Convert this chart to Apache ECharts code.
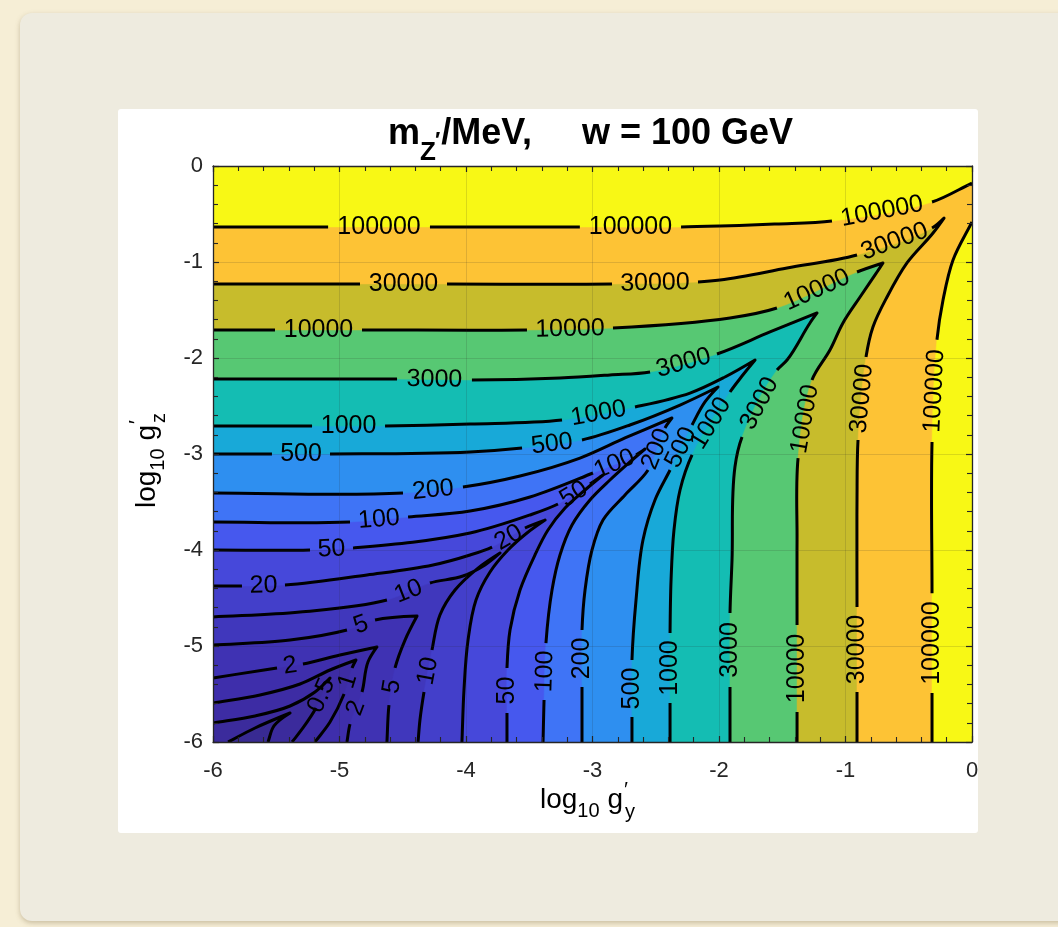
<!DOCTYPE html>
<html>
<head>
<meta charset="utf-8">
<script src="https://cdn.jsdelivr.net/npm/echarts@6.0.0/dist/echarts.min.js"></script>
<style>
html,body{margin:0;padding:0;}
body{width:1058px;height:927px;overflow:hidden;background:#f6eed6;position:relative;}
#card{position:absolute;left:20px;top:13px;width:1060px;height:908px;background:#eeebdf;border-radius:12px;box-shadow:0 2px 5px rgba(120,100,60,0.35);}
#panel{position:absolute;left:118px;top:109px;width:860px;height:724px;background:#ffffff;border-radius:3px;}
#chart{position:absolute;left:0;top:0;width:1058px;height:927px;}
</style>
</head>
<body>
<div id="card"></div>
<div id="panel"></div>
<div id="chart"></div>
<script>
// ---------------- data ----------------
// axes: x = log10 g'_y, y = log10 g'_z ; contour values = m_Z' in MeV
const xTickValues = [-6, -5, -4, -3, -2, -1, 0];
const yTickValues = [-6, -5, -4, -3, -2, -1, 0];
const levels = [0.2, 0.5, 1, 2, 5, 10, 20, 50, 100, 200, 500, 1000, 3000, 10000, 30000, 100000];

// each contour = list of visible line pieces; gaps between pieces hold the inline labels
const c100000top = [
  [[-6, -0.635], [-5.09, -0.635]],
  [[-4.285, -0.635], [-3.10, -0.635]],
  [[-2.30, -0.635], [-1.99, -0.625], [-1.55, -0.604], [-1.107, -0.573]],
  [[-0.316, -0.375], [0, -0.177]]
];
const c100000right = [
  [[0, -0.583], [-0.150, -0.979], [-0.229, -1.396], [-0.277, -1.81]],
  [[-0.316, -2.875], [-0.316, -4.45]],
  [[-0.316, -5.49], [-0.316, -6]]
];
const c30000 = [
  [[-6, -1.229], [-4.838, -1.229]],
  [[-4.150, -1.229], [-2.846, -1.229]],
  [[-2.166, -1.208], [-1.992, -1.188], [-1.462, -1.063], [-0.909, -0.927]],
  [[-0.316, -0.646], [-0.221, -0.542], [-0.308, -0.698], [-0.514, -1.010], [-0.672, -1.365], [-0.783, -1.677], [-0.838, -1.990]],
  [[-0.901, -2.854], [-0.909, -3.479], [-0.909, -4.594]],
  [[-0.909, -5.479], [-0.909, -6]]
];
const c10000 = [
  [[-6, -1.708], [-5.51, -1.708]],
  [[-4.822, -1.708], [-3.518, -1.708]],
  [[-2.838, -1.688], [-1.913, -1.583], [-1.542, -1.479]],
  [[-0.909, -1.104], [-0.704, -1.010], [-0.751, -1.104], [-0.885, -1.365], [-1.020, -1.635], [-1.123, -1.917], [-1.265, -2.229]],
  [[-1.375, -3.042], [-1.383, -3.896], [-1.383, -4.781]],
  [[-1.383, -5.688], [-1.383, -6]]
];
const c3000 = [
  [[-6, -2.219], [-4.545, -2.219]],
  [[-3.953, -2.229], [-3.257, -2.208], [-2.862, -2.177], [-2.545, -2.146]],
  [[-2.016, -1.958], [-1.597, -1.729], [-1.225, -1.531], [-1.281, -1.635], [-1.462, -2.021], [-1.541, -2.125]],
  [[-1.818, -2.823], [-1.874, -3.135], [-1.897, -4.104], [-1.913, -4.656]],
  [[-1.913, -5.427], [-1.913, -6]]
];
const c1000 = [
  [[-6, -2.708], [-5.217, -2.708]],
  [[-4.640, -2.708], [-3.968, -2.688], [-3.241, -2.646]],
  [[-2.664, -2.510], [-2.229, -2.365], [-1.953, -2.198], [-1.715, -2.021], [-1.818, -2.188], [-1.913, -2.354]],
  [[-2.213, -3.010], [-2.308, -3.375], [-2.356, -3.792], [-2.379, -4.313], [-2.387, -4.865]],
  [[-2.387, -5.594], [-2.387, -6]]
];
const c500 = [
  [[-6, -3.0], [-5.534, -3.0]],
  [[-5.075, -3.0], [-3.968, -2.979], [-3.557, -2.938]],
  [[-3.083, -2.854], [-2.704, -2.698], [-2.308, -2.490], [-2.008, -2.302], [-2.111, -2.458], [-2.213, -2.698]],
  [[-2.387, -3.167], [-2.506, -3.479], [-2.601, -3.896], [-2.656, -4.521], [-2.688, -5.146]],
  [[-2.688, -5.740], [-2.688, -6]]
];
const c200 = [
  [[-6, -3.406], [-4.498, -3.406]],
  [[-4.024, -3.344], [-3.573, -3.229], [-3.099, -3.042], [-2.743, -2.833], [-2.372, -2.625], [-2.427, -2.729]],
  [[-2.561, -3.167], [-2.743, -3.427], [-2.917, -3.688], [-3.004, -4.0], [-3.059, -4.417], [-3.083, -4.833]],
  [[-3.083, -5.427], [-3.083, -6]]
];
const c100 = [
  [[-6, -3.708], [-4.917, -3.708]],
  [[-4.458, -3.656], [-3.968, -3.594], [-3.494, -3.448], [-2.996, -3.198]],
  [[-2.656, -3.010], [-2.585, -2.948], [-2.704, -3.083], [-2.862, -3.271], [-3.020, -3.479], [-3.162, -3.740], [-3.257, -4.052], [-3.320, -4.417], [-3.368, -4.969]],
  [[-3.383, -5.563], [-3.391, -6]]
];
const c50 = [
  [[-6, -4.0], [-5.233, -4.0]],
  [[-4.893, -3.979], [-3.968, -3.823], [-3.494, -3.635], [-3.273, -3.521]],
  [[-3.020, -3.313], [-2.917, -3.219], [-3.059, -3.375], [-3.217, -3.563], [-3.352, -3.792], [-3.455, -4.052], [-3.573, -4.417], [-3.652, -4.833], [-3.676, -5.229]],
  [[-3.676, -5.698], [-3.676, -6]]
];
const c20 = [
  [[-6, -4.375], [-5.771, -4.375]],
  [[-5.431, -4.365], [-4.783, -4.260], [-4.261, -4.156], [-3.968, -4.052], [-3.794, -3.969]],
  [[-3.534, -3.771], [-3.375, -3.688], [-3.518, -3.823], [-3.668, -4.0], [-3.810, -4.229], [-3.921, -4.521], [-3.984, -4.938], [-4.016, -5.458], [-4.032, -6]]
];
const c10 = [
  [[-6, -4.698], [-5.312, -4.646], [-4.625, -4.521]],
  [[-4.285, -4.344], [-4.024, -4.271], [-3.850, -4.156], [-3.731, -4.031], [-3.905, -4.188], [-4.087, -4.417], [-4.206, -4.677], [-4.269, -5.042]],
  [[-4.332, -5.479], [-4.364, -5.771], [-4.379, -6]]
];
const c5 = [
  [[-6, -4.990], [-5.391, -4.938], [-4.941, -4.833]],
  [[-4.719, -4.729], [-4.387, -4.688], [-4.482, -4.938], [-4.561, -5.229]],
  [[-4.609, -5.615], [-4.625, -6]]
];
const c2 = [
  [[-6, -5.333], [-5.494, -5.229]],
  [[-5.289, -5.188], [-4.996, -5.094], [-4.704, -5.010], [-4.775, -5.167], [-4.822, -5.479]],
  [[-4.917, -5.813], [-4.941, -6]]
];
const c1 = [
  [[-6, -5.594], [-5.628, -5.510], [-5.312, -5.396], [-5.075, -5.25], [-4.870, -5.146], [-4.901, -5.229]],
  [[-4.964, -5.5], [-5.075, -5.792], [-5.194, -6]]
];
const c05 = [
  [[-6, -5.802], [-5.668, -5.729], [-5.391, -5.625], [-5.194, -5.479], [-5.075, -5.333], [-5.099, -5.385]],
  [[-5.186, -5.646], [-5.289, -5.854], [-5.375, -6]]
];
const c02 = [
  [[-5.881, -6], [-5.668, -5.854], [-5.391, -5.698], [-5.518, -5.833], [-5.565, -6]]
];

const contourLevels = [0.2, 0.5, 1, 2, 5, 10, 20, 50, 100, 200, 500, 1000, 3000, 10000, 30000, 100000, 100000];
const contourCurves = [c02, c05, c1, c2, c5, c10, c20, c50, c100, c200, c500, c1000, c3000, c10000, c30000, c100000top, c100000right];

// ---------------- style ----------------
const bandColors = ['#382a92', '#3b2b9c', '#3d2ca4', '#3e2eab', '#3f32b3', '#4037bc', '#433fca', '#4648da', '#4658ee', '#3f74f6', '#2e8ff0', '#18a9d8', '#14bdb3', '#57c873', '#c7bc2c', '#fdc335', '#f8f815'];
const FONT = '"Liberation Sans", Arial, Helvetica, sans-serif';

function fmt(v) { return String(v); }

function edgeParam(p) {
  const x = p[0], y = p[1];
  const dB = Math.abs(y + 6), dR = Math.abs(x), dT = Math.abs(y), dL = Math.abs(x + 6);
  const m = Math.min(dB, dR, dT, dL);
  if (m === dB) return (x + 6) / 6;
  if (m === dR) return 1 + (y + 6) / 6;
  if (m === dT) return 2 + (-x) / 6;
  return 3 + (-y) / 6;
}
function tangents(pts) {
  return pts.map((p, i) => {
    const a = pts[i - 1], b = pts[i + 1];
    if (!a || !b) {
      const q = a || b; const s = a ? 1 : -1;
      const d = [s * (p[0] - q[0]), s * (p[1] - q[1])]; const l = Math.hypot(d[0], d[1]) || 1;
      return [d[0] / l, d[1] / l];
    }
    const u = [p[0] - a[0], p[1] - a[1]], v = [b[0] - p[0], b[1] - p[1]];
    const lu = Math.hypot(u[0], u[1]) || 1, lv = Math.hypot(v[0], v[1]) || 1;
    const cos = (u[0] * v[0] + u[1] * v[1]) / (lu * lv);
    if (cos < -0.2) return [0, 0];
    const t = [u[0] / lu + v[0] / lv, u[1] / lu + v[1] / lv]; const lt = Math.hypot(t[0], t[1]) || 1;
    return [t[0] / lt, t[1] / lt];
  });
}

function renderContours(params, api) {
  const fills = [], lines = [], labels = [];
  const tl = api.coord([-6, 0]), br = api.coord([0, -6]);
  const corners = [api.coord([-6, -6]), api.coord([0, -6]), api.coord([0, 0]), api.coord([-6, 0])];
  fills.push({type: 'rect', shape: {x: tl[0], y: tl[1], width: br[0] - tl[0], height: br[1] - tl[1]}, style: {fill: bandColors[0]}, z2: 1});
  contourCurves.forEach((pieces, ci) => {
    const level = contourLevels[ci];
    const band = levels.indexOf(level) + 1;
    const all = [], breaks = [];
    pieces.forEach((pc, k) => { pc.forEach(p => all.push(p)); if (k < pieces.length - 1) breaks.push(all.length - 1); });
    const px = all.map(p => api.coord(p));
    const tg = tangents(px);
    const seg = i => {
      const p = px[i], q = px[i + 1]; const L = Math.hypot(q[0] - p[0], q[1] - p[1]) / 3;
      return ' C' + (p[0] + tg[i][0] * L) + ',' + (p[1] + tg[i][1] * L) + ' ' + (q[0] - tg[i + 1][0] * L) + ',' + (q[1] - tg[i + 1][1] * L) + ' ' + q[0] + ',' + q[1];
    };
    let d = 'M' + px[0][0] + ',' + px[0][1];
    for (let i = 0; i < px.length - 1; i++) d += seg(i);
    const tE = edgeParam(all[all.length - 1]);
    let tS = edgeParam(all[0]); if (tS <= tE) tS += 4;
    for (let c = Math.floor(tE) + 1; c < tS; c++) { const cp = corners[c % 4]; d += ' L' + cp[0] + ',' + cp[1]; }
    d += ' Z';
    fills.push({type: 'path', shape: {pathData: d}, style: {fill: bandColors[band], stroke: bandColors[band], lineWidth: 0.5}, z2: 2 + ci});
    let ld = '', fresh = true;
    for (let i = 0; i < px.length - 1; i++) {
      if (breaks.indexOf(i) >= 0) { fresh = true; continue; }
      if (fresh) { ld += 'M' + px[i][0] + ',' + px[i][1]; fresh = false; }
      ld += seg(i);
    }
    lines.push({type: 'path', shape: {pathData: ld}, style: {fill: null, stroke: '#000000', lineWidth: 3, lineJoin: 'round'}, z2: 100});
    breaks.forEach(i => {
      const a = px[i], b = px[i + 1];
      let ang = Math.atan2(-(b[1] - a[1]), b[0] - a[0]);
      if (ang > Math.PI / 2 + 1e-6) ang -= Math.PI; else if (ang <= -Math.PI / 2 + 1e-6) ang += Math.PI;
      labels.push({type: 'text', x: (a[0] + b[0]) / 2, y: (a[1] + b[1]) / 2, rotation: ang,
        style: {text: fmt(level), fill: '#000000', font: '25px ' + FONT, align: 'center', verticalAlign: 'middle'}, z2: 200});
    });
  });
  return {type: 'group', children: fills.concat(lines, labels)};
}

// ---------------- text helpers (title and axis names) ----------------
const mctx = document.createElement('canvas').getContext('2d');
function tw(t, font) { mctx.font = font; return mctx.measureText(t).width; }
function runText(frags) {
  const out = []; let x = 0;
  frags.forEach(f => {
    const font = (f.bold ? 'bold ' : '') + f.size + 'px ' + FONT;
    x += f.dx || 0;
    out.push({type: 'text', x: x, y: (f.dy || 0) - 0.35 * f.size, style: {text: f.t, font: font, fill: '#000000', align: 'left', verticalAlign: 'middle'}});
    if (!f.noAdvance) x += tw(f.t, font);
  });
  return out;
}

const titleEls = runText([
  {t: 'm', size: 36, bold: true},
  {t: 'Z', size: 26, bold: true, dy: 15},
  {t: '\u2032', size: 22, bold: true, dy: 2, dx: -1},
  {t: '/MeV,', size: 36, bold: true, dx: 1},
  {t: '     w = 100 GeV', size: 36, bold: true}
]);
const xNameEls = runText([
  {t: 'log', size: 28},
  {t: '10', size: 20, dy: 8},
  {t: ' g', size: 28},
  {t: '\u2032', size: 21, dy: -12, noAdvance: true, dx: 1},
  {t: 'y', size: 20, dy: 9, dx: 1}
]);
const yNameEls = runText([
  {t: 'log', size: 28},
  {t: '10', size: 20, dy: 8},
  {t: ' g', size: 28},
  {t: '\u2032', size: 21, dy: -12, noAdvance: true, dx: 1},
  {t: 'z', size: 20, dy: 9, dx: 1}
]);

const axisColor = '#262626';
function xAx(pos, showLabel) {
  return {type: 'value', min: -6, max: 0, interval: 1, position: pos, z: 5,
    axisLine: {show: true, onZero: false, lineStyle: {color: axisColor, width: 1.3}},
    axisTick: {show: true, inside: true, length: 6, lineStyle: {color: axisColor, width: 1.2}},
    minorTick: {show: true, splitNumber: 5, length: 5, lineStyle: {color: axisColor, width: 1.1}},
    axisLabel: {show: showLabel, margin: 18, fontSize: 22, color: axisColor, fontFamily: FONT},
    splitLine: {show: showLabel, lineStyle: {color: 'rgba(38,38,38,0.15)', width: 1}}};
}
function yAx(pos, showLabel) {
  return {type: 'value', min: -6, max: 0, interval: 1, position: pos, z: 5,
    axisLine: {show: true, onZero: false, lineStyle: {color: axisColor, width: 1.3}},
    axisTick: {show: true, inside: true, length: 6, lineStyle: {color: axisColor, width: 1.2}},
    minorTick: {show: true, splitNumber: 5, length: 5, lineStyle: {color: axisColor, width: 1.1}},
    axisLabel: {show: showLabel, margin: 10, fontSize: 22, color: axisColor, fontFamily: FONT},
    splitLine: {show: showLabel, lineStyle: {color: 'rgba(38,38,38,0.15)', width: 1}}};
}

const chart = echarts.init(document.getElementById('chart'), null, {renderer: 'canvas'});
chart.setOption({
  animation: false,
  grid: {left: 213, top: 166, width: 759, height: 576},
  xAxis: [xAx('bottom', true), xAx('top', false)],
  yAxis: [yAx('left', true), yAx('right', false)],
  graphic: [
    {type: 'group', x: 388, y: 147, children: titleEls},
    {type: 'group', x: 540, y: 810, children: xNameEls},
    {type: 'group', x: 157, y: 508, rotation: Math.PI / 2, children: yNameEls}
  ],
  series: [{type: 'custom', coordinateSystem: 'cartesian2d', xAxisIndex: 0, yAxisIndex: 0, clip: true, silent: true, z: 2,
    data: [[-3, -3]], renderItem: renderContours}]
});
</script>
</body>
</html>
